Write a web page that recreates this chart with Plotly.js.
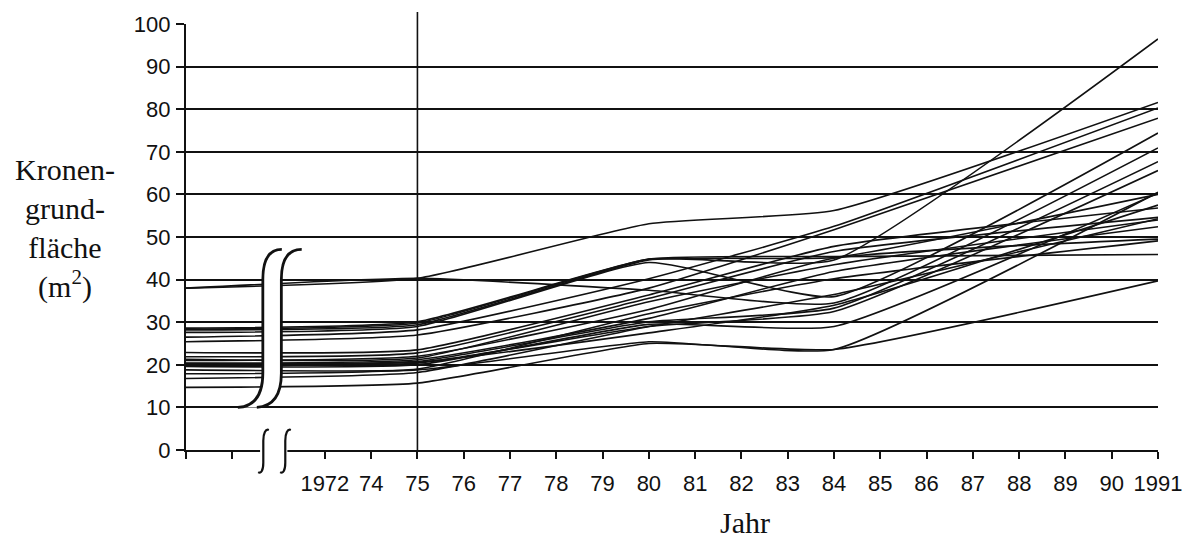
<!DOCTYPE html>
<html>
<head>
<meta charset="utf-8">
<script src="https://cdn.plot.ly/plotly-3.0.1.min.js"></script>
<style>
  html, body { margin: 0; padding: 0; background: #fff; }
  #chart { width: 1193px; height: 545px; }
</style>
</head>
<body>
<div id="chart"></div>
<script>
// Category positions along the x axis (null = position hidden by the axis break)
const xLabels = ['', '', null, '1972', '74', '75', '76', '77', '78', '79', '80',
                 '81', '82', '83', '84', '85', '86', '87', '88', '89', '90', '1991'];
const measureIdx = [0, 5, 10, 14, 21];

// Crown ground area (m²) per tree at the measure positions
const treeA = [38.0, 40.3, 53.1, 56.2, 81.6];
const treeB = [28.6, 30.1, 44.8, 44.6, 96.5];
const treeC = [28.4, 29.8, 44.8, 45.4, 45.9];
const treeD = [28.2, 29.4, 44.6, 45.2, 60.0];
const treeE = [27.6, 29.0, 44.0, 36.0, 74.4];
const treeF = [38.0, 40.3, 37.5, 34.5, 70.9];
const treeG = [26.5, 28.2, 40.2, 52.5, 80.3];
const treeH = [25.4, 27.0, 38.0, 51.7, 77.9];
const treeI = [22.9, 23.5, 36.4, 47.8, 56.8];
const treeJ = [21.9, 22.8, 35.6, 46.6, 54.6];
const treeK = [21.3, 21.6, 34.8, 43.5, 54.0];
const treeL = [20.4, 21.2, 30.9, 41.9, 52.4];
const treeM = [20.2, 20.8, 30.1, 33.3, 67.7];
const treeN = [20.0, 20.4, 29.0, 32.5, 65.6];
const treeO = [19.6, 20.0, 29.5, 29.0, 60.3];
const treeP = [18.8, 18.8, 25.4, 23.6, 60.5];
const treeQ = [14.7, 15.7, 25.0, 23.6, 39.7];
const treeR = [21.0, 22.0, 33.0, 45.0, 49.5];
const treeS = [17.9, 19.0, 32.0, 40.2, 49.1];
const treeT = [16.8, 18.2, 29.0, 36.5, 54.3];
const treeU = [20.3, 20.6, 27.5, 34.0, 57.5];

const trees = [treeA, treeB, treeC, treeD, treeE, treeF, treeG, treeH, treeI, treeJ, treeK,
               treeL, treeM, treeN, treeO, treeP, treeQ, treeR, treeS, treeT, treeU];

const yTitle = 'Kronen-<br>grund-<br>fläche<br>(m<sup>2</sup>)';
const xTitle = 'Jahr';
const markYear = '75';

const ink = '#111';
const tickFont = {family: 'Liberation Sans, Arial, sans-serif', size: 22, color: ink};
const serif = {family: 'Liberation Serif, Times New Roman, serif', size: 30, color: ink};

const traces = trees.map(vals => ({
  type: 'scatter', mode: 'lines',
  x: measureIdx, y: vals,
  line: {color: ink, width: 1.6, shape: 'spline', smoothing: 0.45},
  hoverinfo: 'skip', showlegend: false
}));

const tickvals = [], ticktext = [];
xLabels.forEach((l, i) => { if (l !== null) { tickvals.push(i); ticktext.push(l); } });
const markIdx = xLabels.indexOf(markYear);

// decorations: axis break symbols
const bigLeft  = 'M1.12,10 C1.45,10.2 1.66,12.5 1.66,18 L1.66,40 C1.66,45 1.82,47.1 2.07,47.1';
const bigRight = 'M1.53,10 C1.86,10.2 2.06,12.5 2.06,18 L2.06,40 C2.06,45 2.22,47.1 2.50,47.1';
const bigFill  = 'M1.12,10 C1.45,10.2 1.66,12.5 1.66,18 L1.66,40 C1.66,45 1.82,47.1 2.07,47.1 ' +
                 'L2.50,47.1 C2.22,47.1 2.06,45 2.06,40 L2.06,18 C2.06,12.5 1.86,10.2 1.53,10 Z';
const smallInt = dx => `M${1.79+dx},0.047 C${1.72+dx},0.05 ${1.67+dx},0.04 ${1.67+dx},0.022 ` +
                       `L${1.67+dx},-0.03 C${1.67+dx},-0.048 ${1.62+dx},-0.056 ${1.56+dx},-0.052`;

const shapes = [
  {type: 'line', xref: 'x', yref: 'paper', x0: markIdx, x1: markIdx, y0: 0, y1: 1.028,
   line: {color: ink, width: 1.6}, layer: 'above'},
  {type: 'path', xref: 'x', yref: 'y', path: bigFill, fillcolor: '#fff', line: {width: 0}, layer: 'above'},
  {type: 'path', xref: 'x', yref: 'y', path: bigLeft, line: {color: ink, width: 2.8}, layer: 'above'},
  {type: 'path', xref: 'x', yref: 'y', path: bigRight, line: {color: ink, width: 2.8}, layer: 'above'},
  {type: 'rect', xref: 'x', yref: 'paper', x0: 1.6, x1: 2.19, y0: -0.012, y1: 0.012,
   fillcolor: '#fff', line: {width: 0}, layer: 'above'},
  {type: 'path', xref: 'x', yref: 'paper', path: smallInt(0), line: {color: ink, width: 2.2}, layer: 'above'},
  {type: 'path', xref: 'x', yref: 'paper', path: smallInt(0.475), line: {color: ink, width: 2.2}, layer: 'above'}
];

const layout = {
  width: 1193, height: 545,
  margin: {l: 186, r: 35, t: 24, b: 95},
  paper_bgcolor: '#fff', plot_bgcolor: '#fff',
  showlegend: false,
  xaxis: {
    range: [0, xLabels.length - 1], tickmode: 'array', tickvals, ticktext,
    ticks: 'outside', ticklen: 7, tickwidth: 2, tickcolor: ink,
    showline: true, linecolor: ink, linewidth: 2.2,
    showgrid: false, zeroline: false, tickfont: tickFont, ticklabelstandoff: 5,
    fixedrange: true
  },
  yaxis: {
    range: [0, 100], tickmode: 'linear', tick0: 0, dtick: 10,
    ticks: 'outside', ticklen: 8, tickwidth: 2, tickcolor: ink,
    showline: true, linecolor: ink, linewidth: 2.2,
    showgrid: true, gridcolor: ink, gridwidth: 2, zeroline: false,
    tickfont: tickFont, ticklabelstandoff: 1, fixedrange: true
  },
  shapes,
  annotations: [
    {xref: 'paper', yref: 'paper', x: -0.1245, y: 0.521, xanchor: 'center', yanchor: 'middle',
     text: yTitle, showarrow: false, align: 'center', font: serif},
    {xref: 'paper', yref: 'paper', x: 0.575, y: -0.171, xanchor: 'center', yanchor: 'middle',
     text: xTitle, showarrow: false, font: serif}
  ]
};

Plotly.newPlot('chart', traces, layout, {displayModeBar: false, staticPlot: true});
</script>
</body>
</html>
